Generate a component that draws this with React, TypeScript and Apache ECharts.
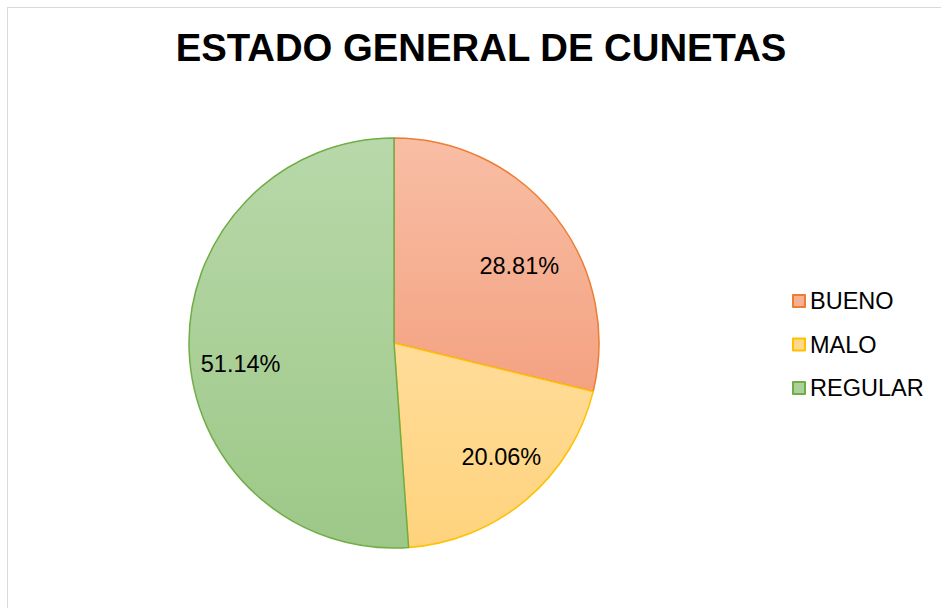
import React, { useEffect, useRef } from "react";
import * as echarts from "echarts";

const categories = ["BUENO", "MALO", "REGULAR"];
const values = [28.81, 20.06, 51.14];
const title = "ESTADO GENERAL DE CUNETAS";

const fillTop = ["#F8BEA5", "#FFDC99", "#B8D8A9"];
const fillBottom = ["#F4A281", "#FFD37D", "#9DC888"];
const borderColors = ["#ED7D31", "#FFC000", "#70AD47"];
const legendFill = ["#F6B093", "#FFD88C", "#ACD09A"];

const FONT = "'Liberation Sans', Arial, sans-serif";

export default function App() {
  const ref = useRef<HTMLDivElement>(null);
  useEffect(() => {
    if (!ref.current) return;
    const chart = echarts.init(ref.current, null, { renderer: "svg" });
    const labelOffsets = [
      [3, 19],
      [7, -5],
      [2, 15],
    ];
    const pieData = categories.map((name, i) => ({
      name,
      value: values[i],
      itemStyle: {
        color: new echarts.graphic.LinearGradient(0, 0, 0, 1, [
          { offset: 0, color: fillTop[i] },
          { offset: 1, color: fillBottom[i] },
        ]),
        borderColor: borderColors[i],
        borderWidth: 1.5,
      },
    }));
    const labelData = categories.map((name, i) => ({
      name,
      value: values[i],
      label: { offset: labelOffsets[i] },
    }));
    chart.setOption({
      animation: false,
      backgroundColor: "#ffffff",
      title: {
        text: title,
        left: "center",
        top: 20,
        padding: 0,
        textStyle: {
          fontFamily: FONT,
          fontSize: 38.3,
          fontWeight: "bold",
          color: "#000000",
        },
      },
      legend: {
        orient: "vertical",
        left: 784,
        top: 281,
        padding: 0,
        itemWidth: 12,
        itemHeight: 12,
        itemGap: 19.5,
        icon: "rect",
        textStyle: { fontFamily: FONT, fontSize: 23.5, color: "#000000" },
        data: categories.map((name, i) => ({
          name,
          icon: "rect",
          itemStyle: {
            color: legendFill[i],
            borderColor: borderColors[i],
            borderWidth: 2,
          },
        })),
      },
      series: [
        {
          type: "pie",
          center: [386, 335],
          radius: [0, 205],
          startAngle: 90,
          clockwise: true,
          label: { show: false },
          labelLine: { show: false },
          emphasis: { disabled: true },
          data: pieData,
        },
        {
          type: "pie",
          center: [386, 335],
          radius: [100, 205],
          startAngle: 90,
          clockwise: true,
          silent: true,
          itemStyle: { color: "rgba(0,0,0,0)", borderWidth: 0 },
          label: {
            show: true,
            position: "inside",
            formatter: (p: any) => p.value.toFixed(2) + "%",
            fontFamily: FONT,
            fontSize: 23.5,
            color: "#000000",
          },
          labelLine: { show: false },
          emphasis: { disabled: true },
          data: labelData,
        },
      ],
    });
    return () => chart.dispose();
  }, []);
  return (
    <div
      style={{
        position: "fixed",
        left: 7,
        top: 7,
        border: "1px solid #d9d9d9",
        background: "#ffffff",
      }}
    >
      <div ref={ref} style={{ width: 946, height: 620 }} />
    </div>
  );
}
